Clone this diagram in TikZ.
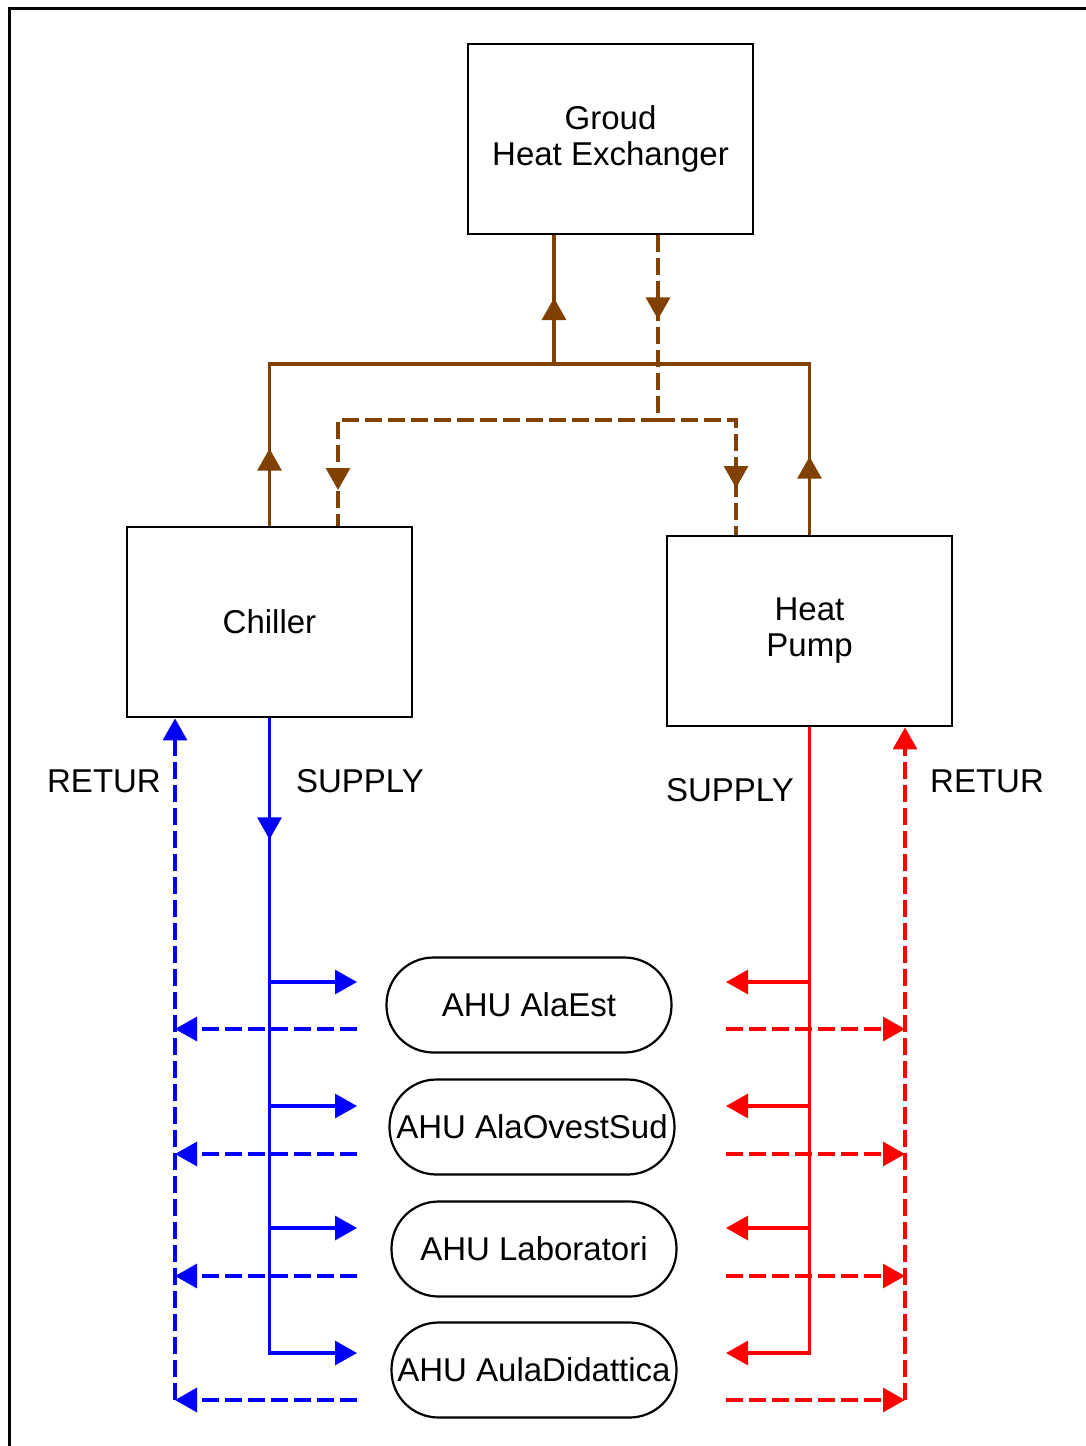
\documentclass[tikz,border=0pt]{standalone}
\usepackage{fontspec}
\setmainfont{Liberation Sans}
\usetikzlibrary{arrows.meta,decorations.markings}
\definecolor{pipebrown}{RGB}{128,64,0}
\definecolor{pipeblue}{RGB}{0,0,255}
\definecolor{pipered}{RGB}{255,0,0}
\begin{document}
\begin{tikzpicture}[x=1pt,y=-1pt,
  txt/.style={font=\fontsize{33}{36}\selectfont},
  box/.style={txt, draw, line width=2.8pt, minimum width=285pt, minimum height=190pt,
    align=center, inner sep=0pt},
  ahu/.style={txt, draw, line width=2.2pt, rounded corners=47pt, minimum width=285pt,
    minimum height=95pt, inner sep=0pt},
  pipe/.style={line width=3.1pt},
  ret/.style={pipe, dash pattern=on 17pt off 6pt},
  tip/.style={-{Triangle[length=22pt,width=24pt]}},
  midtip/.style={postaction={decorate}, decoration={markings,
    mark=at position #1 with {\arrow{Triangle[length=22pt,width=24pt]}}}}]

% page and frame
\useasboundingbox (0,0) rectangle (1085,1446);
\draw[line width=2.4pt] (9.5,1450) -- (9.5,8.5) -- (1090,8.5);

% equipment
\node[box] (ghx) at (610.5,139) {Groud\\Heat Exchanger};
\node[box] (chiller) at (269.5,622) {Chiller};
\node[box] (hp) at (809.5,631) {Heat\\Pump};

% air handling units
\node[ahu] (a1) at (529,1005) {AHU AlaEst};
\node[ahu] (a2) at (532,1127) {AHU AlaOvestSud};
\node[ahu] (a3) at (534,1249) {AHU Laboratori};
\node[ahu] (a4) at (534,1370) {AHU AulaDidattica};

% ground loop junctions
\coordinate (sj) at ([xshift=-56.5pt]ghx.south |- 0,364);
\coordinate (dj) at ([xshift=47.5pt]ghx.south |- 0,420);

% ground loop: solid line towards the exchanger
\draw[pipe,pipebrown,midtip=77pt] (chiller.north) |- (sj);
\draw[pipe,pipebrown,midtip=78pt] (hp.north) |- (sj);
\draw[pipe,pipebrown,midtip=66pt] (sj) -- ([xshift=-56.5pt]ghx.south);

% ground loop: dashed line back to the machines
\draw[ret,pipebrown,midtip=84pt] ([xshift=47.5pt]ghx.south) -- (dj);
\draw[ret,pipebrown,midtip=390pt] (dj) -| ([xshift=68.5pt]chiller.north);
\draw[ret,pipebrown,midtip=146pt] (dj) -| ([xshift=-73.5pt]hp.north);

% chilled water circuit
\coordinate (bs1) at (357,982);
\coordinate (bs2) at (357,1106);
\coordinate (bs3) at (357,1228);
\coordinate (bs4) at (357,1353);
\coordinate (br1) at (357,1029);
\coordinate (br2) at (357,1154);
\coordinate (br3) at (357,1276);
\coordinate (br4) at (357,1400);
\coordinate (bup) at ([xshift=-94.5pt]chiller.south);

\draw[pipe,pipeblue,tip,midtip=121pt] (chiller.south) |- (bs4);
\foreach \k in {1,2,3}
  \draw[pipe,pipeblue,tip] (chiller.south |- bs\k) -- (bs\k);
\foreach \k in {1,2,3,4}
  \draw[ret,pipeblue,tip] (br\k) -- (br\k -| bup);
\draw[ret,pipeblue,tip] (br4 -| bup) -- (bup);

% heat pump circuit
\coordinate (rs1) at (726,982);
\coordinate (rs2) at (726,1106);
\coordinate (rs3) at (726,1228);
\coordinate (rs4) at (726,1353);
\coordinate (rr1) at (726,1029);
\coordinate (rr2) at (726,1154);
\coordinate (rr3) at (726,1276);
\coordinate (rr4) at (726,1400);
\coordinate (rup) at ([xshift=95.5pt]hp.south);

\draw[pipe,pipered,tip] (hp.south) |- (rs4);
\foreach \k in {1,2,3}
  \draw[pipe,pipered,tip] (hp.south |- rs\k) -- (rs\k);
\foreach \k in {1,2,3,4}
  \draw[ret,pipered,tip] (rr\k) -- (rr\k -| rup);
\draw[ret,pipered,tip] (rr4 -| rup) -- (rup);

% circuit labels
\node[txt] (lretl) at (104,781) {RETUR};
\node[txt] (lsupl) at (360,781) {SUPPLY};
\node[txt] (lsupr) at (730,790) {SUPPLY};
\node[txt] (lretr) at (987,781) {RETUR};
\end{tikzpicture}
\end{document}
